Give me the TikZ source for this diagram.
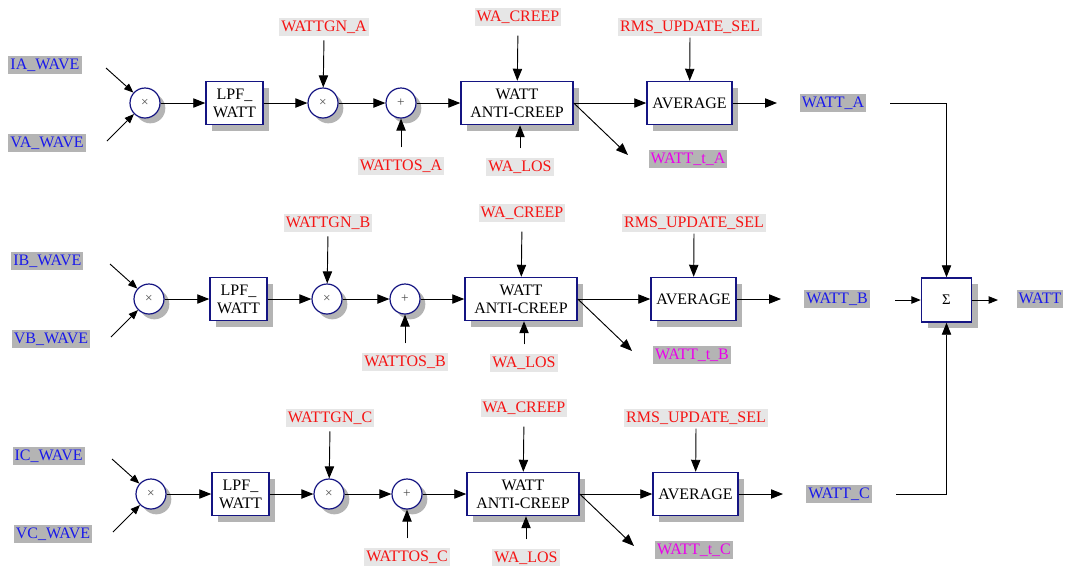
\documentclass[tikz,border=0pt]{standalone}
\usepackage{fontspec}
\setmainfont{Liberation Serif}
\usetikzlibrary{arrows.meta,shadows}
\definecolor{navy}{RGB}{20,20,130}
\definecolor{lblue}{RGB}{25,25,235}
\definecolor{lred}{RGB}{245,20,20}
\definecolor{lmag}{RGB}{235,0,235}
\definecolor{shd}{RGB}{180,180,180}
\definecolor{lbg}{RGB}{230,230,230}
\begin{document}
\begin{tikzpicture}[x=0.75pt,y=-0.75pt,
  blk/.style={draw=navy, line width=1.1pt, fill=white, minimum height=32.25pt, align=center,
    font=\fontsize{12}{13.5}\selectfont, inner sep=0pt,
    drop shadow={shadow xshift=4.5pt,shadow yshift=-4.5pt,fill=shd,opacity=1}},
  op/.style={circle, draw=navy, line width=0.9pt, fill=white, minimum size=22.5pt, inner sep=0pt,
    font=\fontsize{10}{10}\selectfont, text=black!70,
    drop shadow={shadow xshift=4pt,shadow yshift=-4pt,fill=shd,opacity=1}},
  lbl/.style={inner xsep=1.5pt, inner ysep=1.5pt, font=\fontsize{12}{12}\selectfont,
    text height=8.5pt, text depth=2pt},
  sigin/.style={lbl, fill=shd, text=lblue},
  ctl/.style={lbl, fill=lbg, text=lred},
  tap/.style={lbl, fill=shd, text=lmag},
  arr/.style={-{Triangle[length=9pt,width=7pt]}, line width=0.7pt},
  sarr/.style={-{Triangle[length=7pt,width=5.5pt]}, line width=0.7pt}]
\useasboundingbox (0,0) rectangle (1066,565);

\foreach \r/\y/\d in {A/103/0,B/299/4,C/494/6} {
  % inputs
  \node[sigin] (iw\r) at (45+\d*0.6,\y-38) {I\r\_WAVE};
  \node[sigin] (vw\r) at (47+\d,\y+40) {V\r\_WAVE};
  \coordinate (ci\r) at (106+\d,\y-35);
  \coordinate (cv\r) at (107+\d,\y+38);
  % blocks
  \node[op] (ma\r) at (145+\d,\y) {×};
  \node[blk, minimum width=42.75pt] (lpf\r) at (234.5+\d,\y) {LPF\_\\WATT};
  \node[op] (mb\r) at (323+\d,\y) {×};
  \node[op] (ad\r) at (401+\d,\y) {+};
  \node[blk, minimum width=84pt] (ac\r) at (517+\d,\y) {WATT\\ANTI-CREEP};
  \node[blk, minimum width=63.75pt] (av\r) at (689.5+\d,\y) {AVERAGE};
  % control labels
  \node[ctl] (gn\r) at (324+\d,\y-76) {WATTGN\_\r};
  \node[ctl] (os\r) at (401+\d,\y+63) {WATTOS\_\r};
  \node[ctl] (cr\r) at (518+\d,\y-86) {WA\_CREEP};
  \node[ctl] (ls\r) at (520+\d,\y+64) {WA\_LOS};
  \node[ctl] (rm\r) at (690+\d,\y-76) {RMS\_UPDATE\_SEL};
  % outputs
  \node[sigin] (wo\r) at (833+\d,\y) {WATT\_\r};
  \node[tap] (tp\r) at (688+\d,\y+56) {WATT\_t\_\r};
  \coordinate (ae\r) at (777+\d,\y);
  \coordinate (te\r) at (628+\d,\y+52);
  % connectors
  \draw[sarr] (ci\r) -- (ma\r);
  \draw[sarr] (cv\r) -- (ma\r);
  \draw[arr] (ma\r) -- (lpf\r);
  \draw[arr] (lpf\r) -- (mb\r);
  \draw[arr, shorten <=3pt] (gn\r.south) -- (mb\r);
  \draw[arr] (mb\r) -- (ad\r);
  \draw[arr, shorten <=7pt] (os\r.north) -- (ad\r);
  \draw[arr] (ad\r) -- (ac\r);
  \draw[arr, shorten <=7pt] (cr\r.south) -- (ac\r);
  \draw[arr, shorten <=7pt] (ls\r.north) -- (ac\r.south -| ls\r.north);
  \draw[arr] (ac\r) -- (av\r);
  \draw[arr, shorten <=1pt] (rm\r.south) -- (av\r);
  \draw[arr] (av\r) -- (ae\r);
  \draw[arr] (ac\r.east) -- (te\r);
}

\node[blk, minimum width=37.5pt, minimum height=33pt, font=\fontsize{11}{12}\selectfont] (sig) at (946.5,300) {Σ};
\node[sigin] (wt) at (1040,299) {WATT};
\coordinate (oa) at (890,103);
\coordinate (ob) at (895,300);
\coordinate (oc) at (896,494);
\coordinate (oe) at (998,300);
\draw[arr] (oa) -| (sig.north);
\draw[sarr] (ob) -- (sig.west);
\draw[arr] (oc) -| (sig.south);
\draw[sarr] (sig.east) -- (oe);
\end{tikzpicture}
\end{document}
